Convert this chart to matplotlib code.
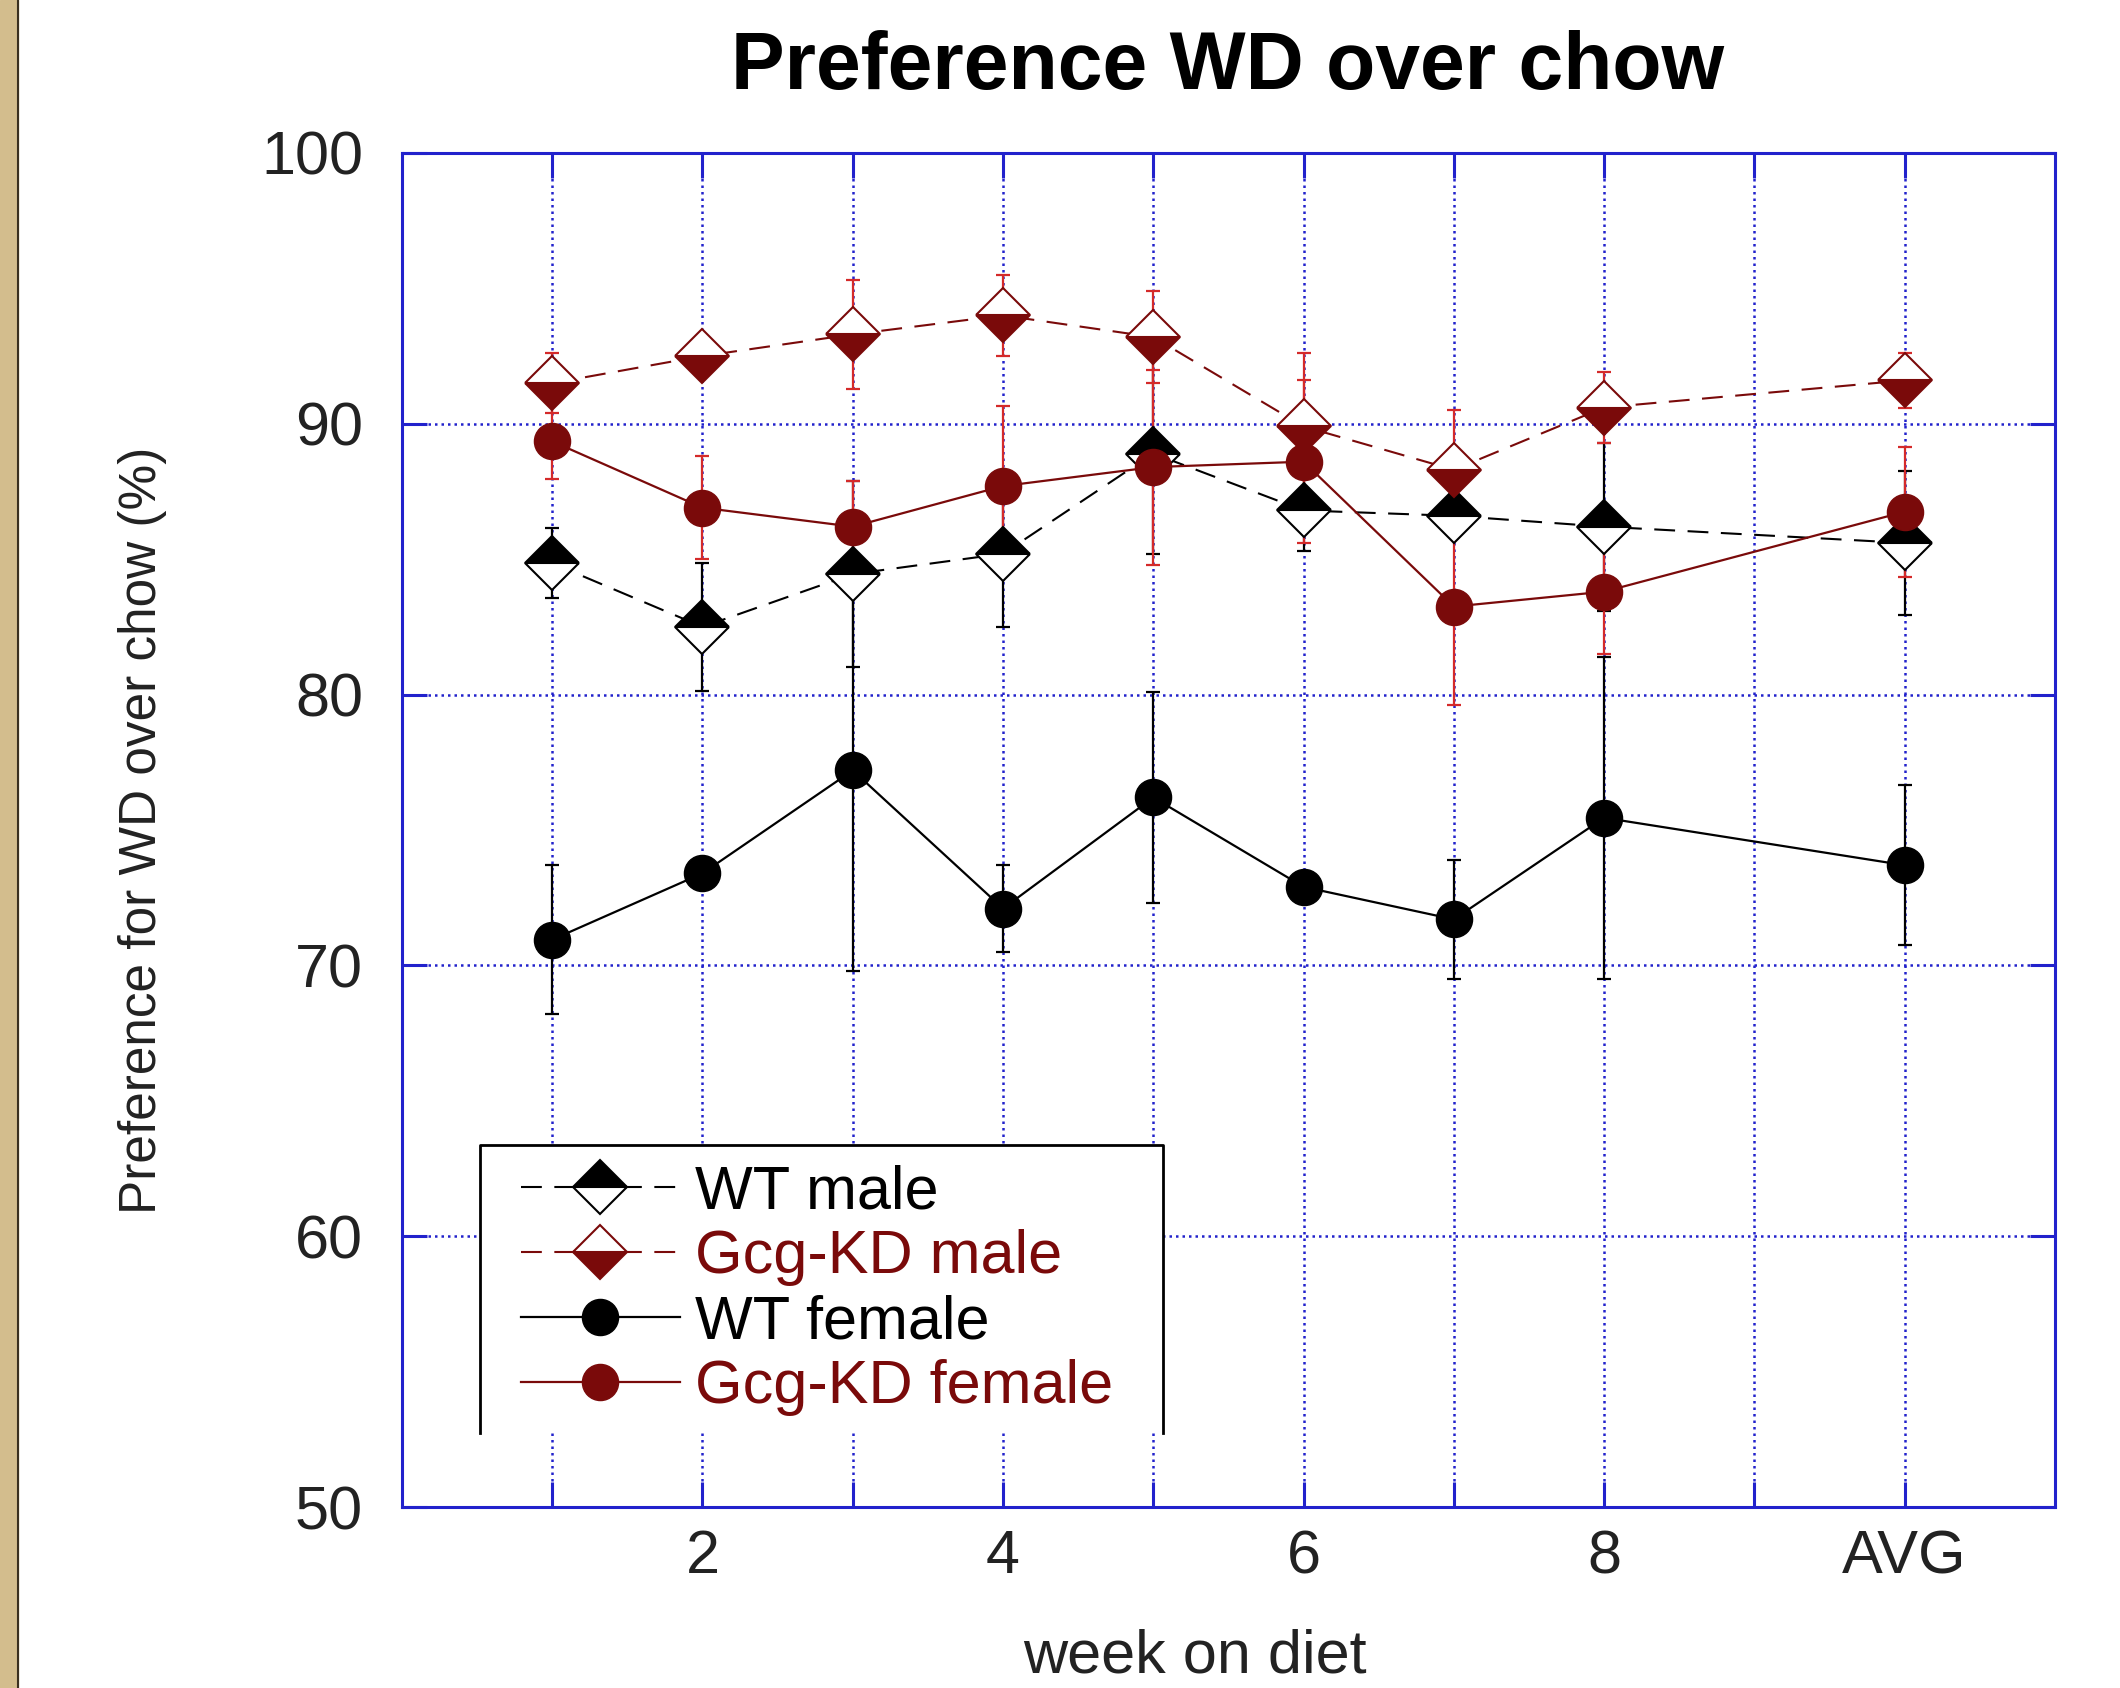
import matplotlib
matplotlib.use("Agg")
import matplotlib.pyplot as plt
from matplotlib.patches import Rectangle
from matplotlib.lines import Line2D

plt.rcParams['font.family'] = ['Liberation Sans', 'DejaVu Sans']

# week on diet (AVG is placed at position 10)
weeks = [1, 2, 3, 4, 5, 6, 7, 8, 10]
tick_pos = [1, 2, 3, 4, 5, 6, 7, 8, 9, 10]
tick_labels = ['', '2', '', '4', '', '6', '', '8', '', 'AVG']

wt_male = [84.85, 82.5, 84.45, 85.2, 88.9, 86.8, 86.6, 86.2, 85.6]
wt_male_sem = [1.3, 2.35, 3.45, 2.7, 3.7, 1.5, 0.6, 3.1, 2.65]

gcg_male = [91.5, 92.5, 93.3, 94.0, 93.2, 89.9, 88.3, 90.6, 91.6]
gcg_male_sem = [1.1, 0.4, 2.0, 1.5, 1.7, 2.7, 2.2, 1.3, 1.0]

wt_female = [70.95, 73.4, 77.2, 72.1, 76.2, 72.9, 71.7, 75.45, 73.7]
wt_female_sem = [2.75, 0.3, 7.4, 1.6, 3.9, 0.3, 2.2, 5.95, 2.95]

gcg_female = [89.35, 86.9, 86.2, 87.7, 88.4, 88.6, 83.25, 83.8, 86.75]
gcg_female_sem = [1.4, 1.9, 1.7, 2.95, 3.6, 3.0, 3.65, 2.3, 2.4]

dark_red = '#7a0a0a'
err_red = '#d42a2a'
blue = '#2222cc'

fig = plt.figure(figsize=(21.2, 16.88), dpi=100)
ax = fig.add_axes([0.1896, 0.1072, 0.7797, 0.8022])

# tan strip on the left edge
fig.patches.append(Rectangle((0, 0), 0.0085, 1, transform=fig.transFigure,
                             color='#d3bd8d', zorder=0))
fig.lines.append(Line2D([0.0085, 0.0085], [0, 1], transform=fig.transFigure,
                        color='#3a3020', lw=1.5))

dash = (0, (10, 6))

# error bars
ax.errorbar(weeks, wt_male, yerr=wt_male_sem, fmt='none', ecolor='black',
            elinewidth=1.6, capsize=5, capthick=1.6, zorder=3)
ax.errorbar(weeks, gcg_male, yerr=gcg_male_sem, fmt='none', ecolor=err_red,
            elinewidth=1.6, capsize=5, capthick=1.6, zorder=3)
ax.errorbar(weeks, wt_female, yerr=wt_female_sem, fmt='none', ecolor='black',
            elinewidth=1.6, capsize=5, capthick=1.6, zorder=3)
ax.errorbar(weeks, gcg_female, yerr=gcg_female_sem, fmt='none', ecolor=err_red,
            elinewidth=1.6, capsize=5, capthick=1.6, zorder=3)

# lines + markers
ax.plot(weeks, wt_male, linestyle=dash, color='black', lw=1.5,
        marker='D', markersize=27, fillstyle='top', markerfacecolor='black',
        markerfacecoloralt='white', markeredgecolor='black', markeredgewidth=1.5,
        label='WT male', zorder=4)
ax.plot(weeks, gcg_male, linestyle=dash, color=dark_red, lw=1.5,
        marker='D', markersize=27, fillstyle='bottom', markerfacecolor=dark_red,
        markerfacecoloralt='white', markeredgecolor=dark_red, markeredgewidth=1.5,
        label='Gcg-KD male', zorder=4)
ax.plot(weeks, wt_female, linestyle='-', color='black', lw=1.6,
        marker='o', markersize=26, markerfacecolor='black', markeredgecolor='black',
        label='WT female', zorder=5)
ax.plot(weeks, gcg_female, linestyle='-', color=dark_red, lw=1.6,
        marker='o', markersize=26, markerfacecolor=dark_red, markeredgecolor=dark_red,
        label='Gcg-KD female', zorder=5)

ax.set_xlim(0, 11)
ax.set_ylim(50, 100)
ax.set_xticks(tick_pos)
ax.set_xticklabels(tick_labels)
ax.set_yticks([50, 60, 70, 80, 90, 100])

ax.grid(True, color=blue, linestyle=(0, (1, 1.6)), linewidth=1.8, zorder=1)
ax.set_axisbelow(True)
for s in ax.spines.values():
    s.set_color(blue)
    s.set_linewidth(2.2)
ax.tick_params(axis='both', which='major', direction='in', length=18, width=2.2,
               color=blue, top=True, right=True, labelsize=44, labelcolor='#222222')
ax.tick_params(axis='y', pad=28)
ax.tick_params(axis='x', pad=16)

ax.set_xlabel('week on diet', fontsize=44, color='#222222', va='center')
ax.xaxis.set_label_coords(0.48, -0.111)
ax.set_ylabel('Preference for WD over chow (%)', fontsize=37, color='#222222',
              va='center')
ax.yaxis.set_label_coords(-0.157, 0.5)
ax.text(0.4996, 1.063, 'Preference WD over chow', transform=ax.transAxes,
        ha='center', va='center', fontsize=58, fontweight='bold')

# legend box (white, open at the bottom)
bx0, bx1, by0, by1 = 0.0474, 0.4603, 0.0549, 0.2675
ax.add_patch(Rectangle((bx0, by0), bx1 - bx0, by1 - by0, transform=ax.transAxes,
                       facecolor='white', edgecolor='none', zorder=6))
ax.add_line(Line2D([bx0, bx0, bx1, bx1], [by0, by1, by1, by0],
                   transform=ax.transAxes, color='black', lw=2, zorder=7))
leg = ax.legend(loc='upper left', bbox_to_anchor=(0.072, 0.253), frameon=False,
                fontsize=44, labelspacing=0.13, borderpad=0, borderaxespad=0,
                handlelength=2.6, handletextpad=0.25, numpoints=1)
leg.set_zorder(8)
for t, c in zip(leg.get_texts(), ['black', dark_red, 'black', dark_red]):
    t.set_color(c)

fig.savefig('out.png', dpi=100)
